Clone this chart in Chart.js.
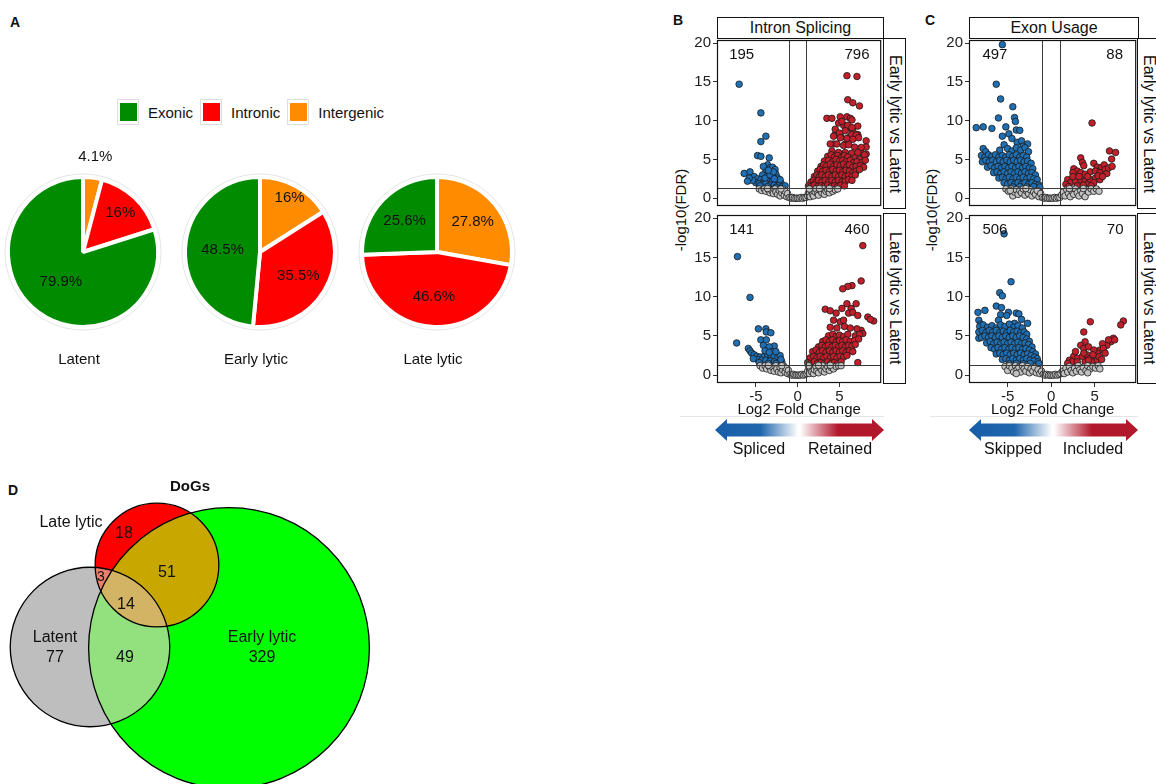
<!DOCTYPE html>
<html>
<head>
<meta charset="utf-8">
<script src="https://cdn.jsdelivr.net/npm/chart.js@4/dist/chart.umd.min.js"></script>
<style>
    body { margin: 0; width: 1156px; height: 784px; overflow: hidden; position: relative; background: #fff;
           font-family: "Liberation Sans", Arial, sans-serif; color: #111; }
    canvas { position: absolute; }
    .tag { position: absolute; font-weight: bold; font-size: 14px; line-height: 14px; }
    .strip { position: absolute; box-sizing: border-box; border: 1.5px solid #111; background: #fff;
             display: flex; align-items: center; justify-content: center; font-size: 16px; white-space: nowrap; }
    .vert { writing-mode: vertical-rl; }
    .ytitle { position: absolute; font-size: 15px; white-space: nowrap; transform: translate(-50%, -50%) rotate(-90deg); }
    .lbl { position: absolute; font-size: 16px; white-space: nowrap; transform: translate(-50%, -50%); }
    .arrow { position: absolute; height: 22px; }
    .faint { position: absolute; height: 0; border-top: 1px solid #e6e6e6; }
    #pieLegend { position: absolute; left: 117px; top: 99px; display: flex; align-items: center; font-size: 15px; }
    .key { width: 22px; height: 26px; box-sizing: border-box; border: 1px solid #dedede; background: #fff;
           display: flex; align-items: center; justify-content: center; }
    .key i { display: block; width: 17px; height: 18px; }
    .ltxt { margin: 0 7px 0 9px; }
</style>
</head>
<body>
    <div class="tag" style="left:10px;top:15px;">A</div>
    <div class="tag" style="left:673px;top:13px;">B</div>
    <div class="tag" style="left:925px;top:13px;">C</div>
    <div class="tag" style="left:8px;top:483px;">D</div>

    <!-- panel A -->
    <div id="pieLegend"></div>
    <canvas id="pie0" width="170" height="250" style="left:-2px;top:127px;"></canvas>
    <canvas id="pie1" width="170" height="250" style="left:175px;top:127px;"></canvas>
    <canvas id="pie2" width="170" height="250" style="left:352px;top:127px;"></canvas>

    <!-- panel B -->
    <div class="faint" style="left:680px;top:416px;width:204px;"></div>
    <div class="strip" style="left:717px;top:17px;width:167px;height:22px;">Intron Splicing</div>
    <div class="strip vert" style="left:883px;top:38px;width:23px;height:171px;">Early lytic vs Latent</div>
    <div class="strip vert" style="left:883px;top:213px;width:23px;height:171px;">Late lytic vs Latent</div>
    <div class="ytitle" style="left:680px;top:210px;">-log10(FDR)</div>
    <canvas id="bTop" width="196" height="188" style="left:690px;top:29px;"></canvas>
    <canvas id="bBot" width="196" height="217" style="left:690px;top:204px;"></canvas>
    <div class="arrow" style="left:715px;top:419px;width:83px;clip-path:polygon(0 50%,12px 0,12px 20%,100% 20%,100% 80%,12px 80%,12px 100%);background:linear-gradient(to right,#175ea9 0%,#1f66ad 55%,#ffffff 100%);"></div>
    <div class="arrow" style="left:800px;top:419px;width:84px;clip-path:polygon(0 20%,calc(100% - 12px) 20%,calc(100% - 12px) 0,100% 50%,calc(100% - 12px) 100%,calc(100% - 12px) 80%,0 80%);background:linear-gradient(to right,#ffffff 0%,#b2182b 45%,#b2182b 100%);"></div>
    <div class="lbl" style="left:759px;top:449px;">Spliced</div>
    <div class="lbl" style="left:840px;top:449px;">Retained</div>

    <!-- panel C -->
    <div class="faint" style="left:930px;top:416px;width:208px;"></div>
    <div class="strip" style="left:969px;top:17px;width:170px;height:22px;">Exon Usage</div>
    <div class="strip vert" style="left:1137px;top:38px;width:23px;height:171px;">Early lytic vs Latent</div>
    <div class="strip vert" style="left:1137px;top:213px;width:23px;height:171px;">Late lytic vs Latent</div>
    <div class="ytitle" style="left:931px;top:210px;">-log10(FDR)</div>
    <canvas id="cTop" width="199" height="188" style="left:942px;top:29px;"></canvas>
    <canvas id="cBot" width="199" height="217" style="left:942px;top:204px;"></canvas>
    <div class="arrow" style="left:969px;top:419px;width:83px;clip-path:polygon(0 50%,12px 0,12px 20%,100% 20%,100% 80%,12px 80%,12px 100%);background:linear-gradient(to right,#175ea9 0%,#1f66ad 55%,#ffffff 100%);"></div>
    <div class="arrow" style="left:1054px;top:419px;width:84px;clip-path:polygon(0 20%,calc(100% - 12px) 20%,calc(100% - 12px) 0,100% 50%,calc(100% - 12px) 100%,calc(100% - 12px) 80%,0 80%);background:linear-gradient(to right,#ffffff 0%,#b2182b 45%,#b2182b 100%);"></div>
    <div class="lbl" style="left:1013px;top:449px;">Skipped</div>
    <div class="lbl" style="left:1093px;top:449px;">Included</div>

    <!-- panel D -->
    <canvas id="venn" width="400" height="314" style="left:0px;top:470px;"></canvas>

<script>
const FONT = '"Liberation Sans", Arial, sans-serif';

// ---- panel A data ----
const pieNames = ['Latent', 'Early lytic', 'Late lytic'];
const regionLabels = ['Exonic', 'Intronic', 'Intergenic'];
const regionColors = ['#008b00', '#ff0000', '#ff8c00'];
const exonicPct = [79.9, 48.5, 25.6];
const intronicPct = [16, 35.5, 46.6];
const intergenicPct = [4.1, 16, 27.8];

// ---- panels B/C data: [log2FC, -log10(FDR)] ----
const xTicks = [-5, 0, 5];
const yTicks = [0, 5, 10, 15, 20];
const fcCut = [-1, 1];
const fdrCut = 1.3;

const intronEarlyCounts = [195, 796];
const intronLateCounts = [141, 460];
const exonEarlyCounts = [497, 88];
const exonLateCounts = [506, 70];

const intronEarlyBlue = [
    [-7.0,14.7],[-4.4,11.0],[-3.8,8.0],[-4.4,7.3],[-4.8,5.5],[-4.4,5.4],[-3.4,5.2],[-6.4,3.2],[-5.7,3.4],
    [-3.6,4.3],[-3.3,3.9],[-3.0,4.0],[-2.7,3.7],[-3.8,3.5],[-3.2,3.3],[-2.6,3.1],[-4.2,3.0],[-3.6,2.9],[-3.0,2.8],[-2.4,2.6],
    [-5.2,2.8],[-4.8,2.5],[-4.4,2.4],[-4.0,2.3],[-3.5,2.2],[-3.0,2.2],[-2.5,2.0],[-2.0,2.0],[-5.0,2.0],[-4.6,1.9],
    [-4.2,1.8],[-3.8,1.9],[-3.3,1.7],[-2.8,1.7],[-2.3,1.6],[-1.8,1.5],[-1.5,1.6],[-5.4,2.3],[-3.9,2.6],[-2.1,2.4],
    [-3.3,3.0],[-2.8,2.5],[-4.5,1.6],[-3.6,1.5],[-2.6,1.4],[-2.9,3.4],[-5.8,2.6],[-6.0,2.2],[-4.1,4.1],[-3.5,3.6]
];
const intronEarlyRed = [
    [5.9,15.8],[7.1,15.7],[6.0,12.7],[6.6,12.3],[7.4,11.9],[3.5,10.3],[4.1,10.3],[5.1,10.5],[5.9,10.5],[6.3,10.3],
    [6.5,10.1],[4.9,9.7],[5.5,9.4],[5.9,9.1],[7.2,9.3],[6.6,8.7],[7.2,8.2],[4.5,8.2],[5.2,7.9],[6.1,7.8],
    [8.2,7.4],[4.3,7.0],[5.7,7.0],[6.8,6.6],[8.2,6.6],[8.2,5.7],[7.6,5.9],[5.3,9.9],[6.0,9.4],[6.5,9.1],
    [4.5,8.9],[5.0,8.4],[5.7,8.7],[6.45,8.2],[7.0,8.15],[7.3,7.8],[4.3,8.0],[5.1,7.8],[5.9,7.7],[6.6,7.6],
    [3.9,7.0],[4.7,7.0],[5.5,6.8],[6.1,6.9],[7.6,6.55],[4.1,6.1],[4.9,5.9],[5.7,5.9],[6.45,5.8],[7.2,5.9],[8.0,5.6],
    [3.6,5.4],[4.0,5.6],[4.4,5.3],[4.8,5.5],[5.2,5.2],[5.6,5.5],[6.0,5.3],[6.8,5.2],[7.4,5.0],
    [3.2,4.8],[3.7,4.9],[4.2,4.7],[4.6,5.0],[5.0,4.8],[5.4,4.9],[5.8,4.7],[6.3,4.9],[6.7,4.6],[7.1,4.7],[7.7,4.6],[8.1,4.9],
    [2.8,4.1],[3.1,4.3],[3.5,4.2],[3.9,4.4],[4.3,4.1],[4.7,4.3],[5.1,4.2],[5.5,4.4],[5.9,4.1],[6.2,4.3],[6.6,4.0],[7.0,4.1],[7.5,4.2],[7.9,4.0],
    [2.4,3.5],[2.7,3.7],[3.0,3.5],[3.4,3.6],[3.8,3.4],[4.2,3.7],[4.6,3.5],[5.0,3.6],[5.4,3.4],[5.8,3.6],[6.2,3.5],[6.6,3.3],[7.0,3.5],[7.4,3.7],
    [2.0,2.8],[2.3,3.0],[2.6,2.8],[2.9,3.0],[3.3,2.8],[3.7,3.0],[4.1,2.8],[4.5,3.0],[4.9,2.8],[5.3,3.0],[5.7,2.8],[6.1,2.9],[6.5,2.8],[6.9,3.0],
    [1.6,2.1],[1.9,2.3],[2.2,2.1],[2.5,2.3],[2.9,2.1],[3.3,2.3],[3.7,2.1],[4.1,2.3],[4.5,2.1],[4.9,2.3],[5.3,2.1],[5.7,2.2],[6.1,2.4],[6.5,2.3],
    [1.3,1.6],[1.6,1.5],[2.0,1.7],[2.4,1.5],[2.8,1.6],[3.2,1.5],[3.6,1.7],[4.0,1.5],[4.4,1.6],[4.8,1.5],[5.2,1.7],[5.6,1.6]
];
const intronEarlyGray = [
    [-4.6,1.2],[-4.3,1.0],[-4.0,1.2],[-3.8,0.9],[-3.5,1.1],[-3.3,0.7],[-3.1,1.0],[-2.9,0.6],[-2.7,1.2],[-2.6,0.8],
    [-2.4,0.5],[-2.2,1.0],[-2.1,0.3],[-1.9,0.7],[-1.8,1.2],[-1.6,0.4],[-1.5,0.9],[-1.3,0.2],[-1.2,0.6],[-1.0,0.1],
    [-0.8,0.0],[-0.6,0.1],[-0.4,0.0],[-0.2,0.0],[0.0,0.0],[0.2,0.0],[0.4,0.1],[0.6,0.0],[0.8,0.1],[1.0,0.1],
    [1.2,0.3],[1.3,0.7],[1.5,0.2],[1.6,1.0],[1.8,0.5],[1.9,0.3],[2.1,0.8],[2.2,1.2],[2.4,0.6],[2.5,0.4],
    [2.7,1.0],[2.9,0.7],[3.1,1.2],[3.2,0.5],[3.4,0.9],[3.6,1.1],[3.8,0.7],[4.0,1.2],[4.2,0.9],[4.5,1.1],
    [4.8,1.2],[-3.6,1.25],[-2.0,1.2],[1.4,1.2],[2.6,1.25],[3.8,1.25]
];

const intronLateBlue = [
    [-7.2,15.1],[-5.7,9.9],[-7.3,4.1],[-4.7,5.9],[-3.8,5.9],[-3.75,5.5],[-3.2,5.4],[-4.4,4.5],[-3.75,4.5],[-2.8,3.7],
    [-4.1,3.8],[-3.4,3.6],[-3.1,3.0],[-5.9,3.4],[-5.7,3.1],[-5.5,2.8],[-5.2,2.6],[-4.9,2.4],[-4.5,2.3],[-4.0,2.4],
    [-3.6,2.6],[-3.2,2.5],[-2.8,2.4],[-2.4,2.2],[-2.1,2.5],[-4.8,2.0],[-4.3,1.9],[-3.8,1.9],[-3.3,1.8],[-2.8,1.7],
    [-2.3,1.6],[-1.9,1.7],[-5.3,2.1],[-4.6,1.6],[-3.5,1.5],[-2.6,1.5],[-2.0,2.0],[-3.9,3.1],[-3.4,2.9],[-2.6,3.0]
];
const intronLateRed = [
    [7.8,16.5],[7.6,12.0],[6.5,11.4],[6.0,11.3],[5.4,11.0],[3.3,8.4],[3.9,8.2],[4.6,7.9],[5.3,8.5],[5.9,9.1],
    [6.4,8.5],[7.0,9.1],[6.1,7.9],[6.6,8.0],[7.2,7.6],[8.4,7.4],[9.1,6.9],[8.7,7.1],[4.3,7.0],[5.1,6.8],
    [5.5,7.0],[3.9,6.1],[7.6,5.7],[7.8,5.3],[7.2,1.6],[4.7,6.0],[5.6,6.2],[6.3,6.0],[7.1,5.9],
    [3.7,5.0],[4.2,5.2],[4.6,4.9],[5.0,5.1],[5.5,4.9],[6.0,5.2],[6.9,5.0],[7.4,5.2],
    [3.0,4.3],[3.4,4.5],[3.8,4.3],[4.2,4.5],[4.6,4.2],[5.0,4.4],[5.4,4.3],[5.8,4.5],[6.3,4.3],[6.8,4.4],[7.3,4.6],
    [2.5,3.6],[2.9,3.8],[3.3,3.6],[3.7,3.8],[4.1,3.6],[4.5,3.8],[4.9,3.6],[5.3,3.8],[5.7,3.6],[6.1,3.8],[6.5,3.7],[6.9,3.9],
    [1.8,3.0],[2.2,3.2],[2.6,2.9],[3.0,3.1],[3.4,2.9],[3.8,3.1],[4.2,2.9],[4.6,3.1],[5.0,2.9],[5.4,3.1],[5.8,2.9],[6.2,3.1],[6.6,3.0],
    [1.5,2.2],[1.9,2.4],[2.3,2.2],[2.7,2.4],[3.1,2.2],[3.5,2.4],[3.9,2.2],[4.3,2.4],[4.7,2.2],[5.1,2.4],[5.5,2.3],[5.9,2.5],
    [1.2,1.6],[1.6,1.5],[2.0,1.7],[2.4,1.5],[2.8,1.6],[3.2,1.5],[3.6,1.7],[4.0,1.5],[4.4,1.6],[4.8,1.5],[5.2,1.7]
];
const intronLateGray = [
    [-4.5,1.2],[-4.2,0.9],[-3.9,1.2],[-3.7,0.8],[-3.4,1.1],[-3.2,0.6],[-3.0,1.0],[-2.8,0.5],[-2.6,1.2],[-2.5,0.8],
    [-2.3,0.4],[-2.1,1.0],[-2.0,0.3],[-1.8,0.7],[-1.7,1.2],[-1.5,0.4],[-1.4,0.9],[-1.2,0.2],[-1.1,0.6],[-0.9,0.1],
    [-0.7,0.0],[-0.5,0.1],[-0.3,0.0],[-0.1,0.0],[0.1,0.0],[0.3,0.0],[0.5,0.1],[0.7,0.0],[0.9,0.1],[1.1,0.2],
    [1.2,0.5],[1.4,0.2],[1.5,0.9],[1.7,0.4],[1.9,0.2],[2.0,0.7],[2.2,1.1],[2.3,0.5],[2.5,0.3],[2.7,0.9],
    [2.9,0.6],[3.0,1.2],[3.2,0.4],[3.4,0.8],[3.6,1.1],[3.8,0.6],[4.0,1.0],[4.3,0.8],[4.6,1.1],[4.9,1.2],
    [5.2,1.2],[-3.5,1.25],[-1.9,1.2],[1.3,1.2],[2.5,1.25],[3.9,1.25]
];

const exonEarlyBlue = [
    [-5.6,19.8],[-6.3,14.7],[-5.8,12.8],[-4.4,11.8],[-6.05,10.35],[-4.2,10.4],[-4.1,9.9],[-8.6,9.1],[-7.8,9.2],[-6.8,9.0],
    [-5.2,9.2],[-4.0,8.8],[-3.6,8.75],[-5.6,8.0],[-4.85,8.3],[-4.5,7.7],[-5.4,6.9],[-3.9,7.2],[-3.4,7.4],[-2.7,7.0],[-3.2,6.7],
    [-7.8,6.4],[-7.5,6.0],[-5.9,6.2],[-5.0,6.4],[-4.5,6.1],[-4.0,6.5],[-3.5,6.2],[-3.0,6.5],[-2.6,6.0],
    [-8.0,5.5],[-7.6,5.3],[-7.2,5.6],[-6.8,5.4],[-6.4,5.6],[-6.0,5.3],[-5.6,5.5],[-5.2,5.3],[-4.8,5.6],[-4.4,5.4],[-4.0,5.6],[-3.6,5.3],[-3.2,5.5],[-2.8,5.3],
    [-7.9,4.7],[-7.5,4.9],[-7.1,4.7],[-6.7,4.9],[-6.3,4.7],[-5.9,4.9],[-5.5,4.7],[-5.1,4.9],[-4.7,4.7],[-4.3,4.9],[-3.9,4.7],[-3.5,4.9],[-3.1,4.7],[-2.7,4.8],[-2.3,4.5],
    [-7.3,4.0],[-6.9,4.2],[-6.5,3.9],[-6.1,4.1],[-5.7,3.9],[-5.3,4.1],[-4.9,3.9],[-4.5,4.1],[-4.1,3.9],[-3.7,4.1],[-3.3,3.9],[-2.9,4.1],[-2.5,3.9],[-2.1,3.8],
    [-6.6,3.3],[-6.2,3.4],[-5.8,3.2],[-5.4,3.4],[-5.0,3.2],[-4.6,3.4],[-4.2,3.2],[-3.8,3.4],[-3.4,3.2],[-3.0,3.4],[-2.6,3.2],[-2.2,3.3],[-1.8,3.0],
    [-6.0,2.6],[-5.6,2.7],[-5.2,2.5],[-4.8,2.7],[-4.4,2.5],[-4.0,2.7],[-3.6,2.5],[-3.2,2.7],[-2.8,2.5],[-2.4,2.7],[-2.0,2.5],[-1.6,2.4],
    [-5.4,2.0],[-5.0,1.8],[-4.6,2.0],[-4.2,1.8],[-3.8,2.0],[-3.4,1.8],[-3.0,2.0],[-2.6,1.8],[-2.2,2.0],[-1.8,1.8],[-1.4,1.7],
    [-4.4,1.45],[-3.6,1.5],[-2.8,1.45],[-2.0,1.5],[-1.3,1.45]
];
const exonEarlyRed = [
    [4.7,9.7],[6.7,6.1],[7.4,5.9],[6.95,5.05],[3.4,5.2],[3.6,4.6],[3.75,4.2],[4.9,4.5],[5.3,4.0],[5.8,4.0],
    [6.1,4.3],[2.6,3.8],[3.0,3.5],[2.5,3.3],[3.4,3.3],[3.9,3.1],[4.5,3.4],[5.1,3.5],[5.6,3.3],[6.2,3.7],
    [6.4,3.2],[1.9,2.4],[2.2,2.0],[2.8,2.2],[3.4,2.4],[3.9,2.2],[4.5,2.4],[5.1,2.6],[5.6,2.4],[1.7,1.8],
    [4.1,1.8],[4.9,2.0],[2.5,2.8],[3.2,2.8],[4.2,2.8],[5.4,2.9],[5.9,2.8],[3.0,1.6],[3.7,1.7],[4.6,1.6],
    [2.0,1.5],[6.6,3.9],[7.0,4.1]
];
const exonEarlyGray = [
    [-5.2,1.2],[-4.9,0.9],[-4.6,1.2],[-4.4,0.3],[-4.2,0.8],[-4.0,1.1],[-3.8,0.5],[-3.6,1.0],[-3.4,0.7],[-3.2,1.2],
    [-3.0,0.4],[-2.8,0.9],[-2.6,0.6],[-2.4,1.1],[-2.2,0.3],[-2.0,0.8],[-1.8,0.5],[-1.6,1.0],[-1.4,0.2],[-1.2,0.6],
    [-1.0,0.1],[-0.8,0.0],[-0.6,0.1],[-0.4,0.0],[-0.2,0.0],[0.0,0.0],[0.2,0.0],[0.4,0.1],[0.6,0.0],[0.8,0.1],
    [1.0,0.1],[1.2,0.4],[1.4,0.8],[1.6,0.3],[1.8,1.1],[2.0,0.6],[2.2,0.2],[2.4,0.9],[2.6,0.5],[2.8,1.2],
    [3.0,0.7],[3.2,0.3],[3.4,1.0],[3.6,0.6],[3.9,0.2],[4.1,1.1],[4.3,0.8],[4.6,1.2],[4.9,0.9],[5.2,1.2],
    [5.5,0.9],[-4.7,1.0],[-2.9,1.25],[2.1,1.25],[3.7,1.25]
];

const exonLateBlue = [
    [-5.4,18.0],[-4.6,11.9],[-5.9,10.5],[-5.6,10.1],[-6.3,8.8],[-5.7,8.6],[-8.4,8.0],[-7.6,8.25],[-5.8,7.7],[-6.05,7.0],
    [-4.9,8.0],[-4.0,7.9],[-3.7,7.8],[-3.4,7.1],[-4.2,6.6],[-2.7,6.6],[-8.3,7.0],[-8.1,6.5],[-8.3,4.7],[-5.1,7.6],[-7.9,5.9],
    [-8.2,6.2],[-7.8,6.4],[-7.3,6.1],[-6.8,6.3],[-6.3,6.0],[-5.8,6.4],[-5.3,6.2],[-4.8,6.5],[-4.3,6.1],[-3.8,6.3],[-3.3,6.0],
    [-8.3,5.5],[-7.9,5.7],[-7.5,5.4],[-7.1,5.7],[-6.7,5.5],[-6.3,5.7],[-5.9,5.4],[-5.5,5.6],[-5.1,5.4],[-4.7,5.7],[-4.3,5.5],[-3.9,5.6],[-3.5,5.4],[-3.1,5.5],[-2.8,5.2],
    [-8.0,4.8],[-7.6,5.0],[-7.2,4.8],[-6.8,5.0],[-6.4,4.8],[-6.0,5.0],[-5.6,4.8],[-5.2,5.0],[-4.8,4.8],[-4.4,5.0],[-4.0,4.8],[-3.6,5.0],[-3.2,4.8],[-2.8,4.6],[-2.5,4.3],
    [-7.4,4.1],[-7.0,4.3],[-6.6,4.0],[-6.2,4.2],[-5.8,4.0],[-5.4,4.2],[-5.0,4.0],[-4.6,4.2],[-4.2,4.0],[-3.8,4.2],[-3.4,4.0],[-3.0,4.1],[-2.6,3.9],[-2.2,3.6],
    [-6.9,3.5],[-6.5,3.3],[-6.1,3.5],[-5.7,3.3],[-5.3,3.5],[-4.9,3.3],[-4.5,3.5],[-4.1,3.3],[-3.7,3.5],[-3.3,3.3],[-2.9,3.4],[-2.5,3.2],[-2.1,3.0],[-1.8,2.7],
    [-6.3,2.7],[-5.9,2.8],[-5.5,2.6],[-5.1,2.8],[-4.7,2.6],[-4.3,2.8],[-3.9,2.6],[-3.5,2.8],[-3.1,2.6],[-2.7,2.7],[-2.3,2.5],[-1.9,2.3],[-1.6,2.1],
    [-5.6,2.0],[-5.2,2.1],[-4.8,1.9],[-4.4,2.1],[-4.0,1.9],[-3.6,2.1],[-3.2,1.9],[-2.8,2.1],[-2.4,1.9],[-2.0,1.8],[-1.5,1.7],
    [-4.8,1.45],[-4.0,1.5],[-3.2,1.45],[-2.4,1.5],[-1.4,1.45]
];
const exonLateRed = [
    [8.3,6.9],[8.0,6.4],[4.5,6.8],[3.75,5.5],[7.15,4.7],[6.85,4.25],[6.4,3.8],[5.9,4.0],[5.6,3.2],[5.3,2.8],
    [3.9,4.25],[3.4,3.8],[3.75,3.4],[4.3,3.6],[4.9,3.2],[2.6,2.4],[3.0,2.15],[3.6,2.4],[4.1,2.6],[4.5,2.15],
    [2.1,1.9],[2.4,1.7],[3.0,1.7],[3.9,1.7],[4.7,1.7],[5.3,1.9],[1.9,1.5],[6.0,3.4],[6.6,4.5],[7.3,4.5],
    [4.3,1.9],[3.75,2.8],[5.5,2.35],[6.2,2.8],[2.8,3.0],[4.8,2.6],[5.8,2.0]
];
const exonLateGray = [
    [-5.3,1.1],[-5.0,0.6],[-4.8,1.2],[-4.5,0.9],[-4.3,0.4],[-4.1,1.2],[-3.9,0.7],[-3.7,1.0],[-3.5,0.4],[-3.3,1.2],
    [-3.1,0.8],[-2.9,0.5],[-2.7,1.1],[-2.5,0.3],[-2.3,0.8],[-2.1,0.5],[-1.9,1.0],[-1.7,0.3],[-1.5,0.7],[-1.3,0.2],
    [-1.1,0.5],[-0.9,0.1],[-0.7,0.0],[-0.5,0.1],[-0.3,0.0],[-0.1,0.0],[0.1,0.0],[0.3,0.0],[0.5,0.1],[0.7,0.0],
    [0.9,0.1],[1.1,0.2],[1.3,0.5],[1.5,0.2],[1.7,0.9],[1.9,0.4],[2.1,1.1],[2.3,0.6],[2.5,0.3],[2.7,0.9],
    [2.9,0.5],[3.1,1.2],[3.3,0.7],[3.5,0.4],[3.7,1.0],[4.0,0.6],[4.2,1.2],[4.5,0.8],[4.8,1.1],[5.1,0.9],
    [5.4,1.2],[5.6,0.8],[-4.0,0.2],[4.2,0.3]
];

// ---- panel D data ----
const vennSets = ['Latent', 'Early lytic', 'Late lytic'];
const vennOnly = [77, 329, 18];
const latentEarly = 49;
const latentLate = 3;
const earlyLate = 51;
const allThree = 14;

// ---------------- panel A ----------------
const legendBox = document.getElementById('pieLegend');
regionLabels.forEach((lab, i) => {
    legendBox.innerHTML += `<span class="key"><i style="background:${regionColors[i]}"></i></span><span class="ltxt">${lab}</span>`;
});

const pieLabelRadius = [[1.28, 0.72, 0.5], [0.82, 0.6, 0.5], [0.62, 0.6, 0.6]];

const pieDeco = {
    id: 'pieDeco',
    beforeDatasetsDraw(chart) {
        const a = chart.getDatasetMeta(0).data[0];
        const ctx = chart.ctx;
        ctx.save();
        ctx.beginPath();
        ctx.arc(a.x, a.y, a.outerRadius + 3, 0, Math.PI * 2);
        ctx.strokeStyle = '#e4e4e4';
        ctx.lineWidth = 1;
        ctx.stroke();
        ctx.restore();
    },
    afterDatasetsDraw(chart, args, opts) {
        const ctx = chart.ctx;
        const meta = chart.getDatasetMeta(0);
        const vals = chart.data.datasets[0].data;
        ctx.save();
        ctx.font = '15px ' + FONT;
        ctx.fillStyle = '#111';
        ctx.textAlign = 'center';
        ctx.textBaseline = 'middle';
        meta.data.forEach((arc, i) => {
            const mid = (arc.startAngle + arc.endAngle) / 2;
            const r = arc.outerRadius * opts.radii[i];
            ctx.fillText(vals[i] + '%', arc.x + Math.cos(mid) * r, arc.y + Math.sin(mid) * r);
        });
        const c = meta.data[0];
        ctx.fillText(opts.title, c.x - 4, c.y + 108);
        ctx.restore();
    }
};

pieNames.forEach((name, k) => {
    // clockwise from 12 o'clock: intergenic, intronic, exonic
    new Chart(document.getElementById('pie' + k), {
        type: 'pie',
        data: {
            labels: [regionLabels[2], regionLabels[1], regionLabels[0]],
            datasets: [{
                data: [intergenicPct[k], intronicPct[k], exonicPct[k]],
                backgroundColor: [regionColors[2], regionColors[1], regionColors[0]],
                borderColor: '#ffffff',
                borderWidth: 4
            }]
        },
        options: {
            responsive: false,
            animation: false,
            events: [],
            layout: { padding: { top: 48, bottom: 48, left: 8, right: 8 } },
            plugins: {
                legend: { display: false },
                tooltip: { enabled: false },
                pieDeco: { radii: pieLabelRadius[k], title: name }
            }
        },
        plugins: [pieDeco]
    });
});

// ---------------- panels B / C ----------------
const toPts = arr => arr.map(p => ({ x: p[0], y: p[1] }));

const volcanoDeco = {
    id: 'volcanoDeco',
    afterDatasetsDraw(chart, args, opts) {
        const { ctx, chartArea: a, scales: { x, y } } = chart;
        ctx.save();
        ctx.strokeStyle = '#3a3a3a';
        ctx.lineWidth = 1;
        fcCut.forEach(v => {
            const px = Math.round(x.getPixelForValue(v)) + 0.5;
            ctx.beginPath(); ctx.moveTo(px, a.top); ctx.lineTo(px, a.bottom); ctx.stroke();
        });
        const py = Math.round(y.getPixelForValue(fdrCut)) + 0.5;
        ctx.beginPath(); ctx.moveTo(a.left, py); ctx.lineTo(a.right, py); ctx.stroke();

        ctx.strokeStyle = '#111';
        ctx.lineWidth = 1.2;
        ctx.strokeRect(a.left + 0.5, a.top + 0.5, a.width - 1, a.height - 1);

        ctx.font = '15px ' + FONT;
        ctx.fillStyle = '#111';
        ctx.textAlign = 'center';
        ctx.textBaseline = 'middle';
        ctx.fillText(String(opts.counts[0]), x.getPixelForValue(opts.countX[0]), y.getPixelForValue(18.5));
        ctx.fillText(String(opts.counts[1]), x.getPixelForValue(opts.countX[1]), y.getPixelForValue(18.5));
        ctx.restore();
    }
};

function volcano(id, xMin, xMax, gray, blue, red, counts, countX, showX) {
    const tickFont = { size: 15, family: FONT };
    return new Chart(document.getElementById(id), {
        type: 'scatter',
        data: {
            datasets: [
                { data: toPts(gray), backgroundColor: '#c2c2c2' },
                { data: toPts(blue), backgroundColor: '#1f6fb4' },
                { data: toPts(red), backgroundColor: '#c21f2b' }
            ]
        },
        options: {
            responsive: false,
            animation: false,
            events: [],
            layout: { padding: { top: 0, right: 3, bottom: 0, left: 0 } },
            elements: { point: { radius: 3.3, borderWidth: 0.8, borderColor: '#1a1a1a' } },
            plugins: {
                legend: { display: false },
                tooltip: { enabled: false },
                volcanoDeco: { counts: counts, countX: countX }
            },
            scales: {
                x: {
                    type: 'linear', min: xMin, max: xMax, display: showX,
                    afterBuildTicks: s => { s.ticks = xTicks.map(v => ({ value: v })); },
                    afterFit: s => { if (showX) s.height = 38; },
                    grid: { drawOnChartArea: false, tickLength: 4, color: '#333' },
                    border: { display: false },
                    ticks: { font: tickFont, color: '#222', padding: 1 },
                    title: { display: true, text: 'Log2 Fold Change', font: tickFont, color: '#111', padding: { top: 0, bottom: 2 } }
                },
                y: {
                    type: 'linear', min: -1, max: 20.4,
                    afterBuildTicks: s => { s.ticks = yTicks.map(v => ({ value: v })); },
                    afterFit: s => { s.width = 27; },
                    grid: { drawOnChartArea: false, tickLength: 4, color: '#333' },
                    border: { display: false },
                    ticks: { font: tickFont, color: '#222', padding: 2 }
                }
            }
        },
        plugins: [volcanoDeco]
    });
}

volcano('bTop', -9.65, 10.0, intronEarlyGray, intronEarlyBlue, intronEarlyRed, intronEarlyCounts, [-6.7, 7.1], false);
volcano('bBot', -9.65, 10.0, intronLateGray, intronLateBlue, intronLateRed, intronLateCounts, [-6.7, 7.1], true);
volcano('cTop', -9.43, 9.77, exonEarlyGray, exonEarlyBlue, exonEarlyRed, exonEarlyCounts, [-6.45, 7.3], false);
volcano('cBot', -9.43, 9.77, exonLateGray, exonLateBlue, exonLateRed, exonLateCounts, [-6.45, 7.35], true);

// ---------------- panel D ----------------
const setTotals = [
    vennOnly[0] + latentEarly + latentLate + allThree,
    vennOnly[1] + latentEarly + earlyLate + allThree,
    vennOnly[2] + latentLate + earlyLate + allThree
];
const radiusPerSqrt = 6.67;                       // area-proportional circles, px per sqrt(count)
const vennCentres = [[90, 177], [229, 178], [157, 95]];
const vennFill = ['#bebebe', '#00ff00', '#ff0000'];

const vennDeco = {
    id: 'vennDeco',
    afterDatasetsDraw(chart) {
        const { ctx, scales: { x, y } } = chart;
        const c = chart.getDatasetMeta(0).data.map(p => ({ x: p.x, y: p.y, r: p.options.radius }));
        const circ = k => { ctx.beginPath(); ctx.arc(c[k].x, c[k].y, c[k].r, 0, Math.PI * 2); };
        const fillIn = (ids, col) => {
            ctx.save();
            ids.forEach(k => { circ(k); ctx.clip(); });
            ctx.fillStyle = col;
            ctx.fillRect(0, 0, chart.width, chart.height);
            ctx.restore();
        };
        fillIn([0, 1], '#92e07e');
        fillIn([0, 2], '#e8806e');
        fillIn([1, 2], '#c8a800');
        fillIn([0, 1, 2], '#d2b464');
        ctx.save();
        ctx.strokeStyle = '#000';
        ctx.lineWidth = 1.3;
        [0, 1, 2].forEach(k => { circ(k); ctx.stroke(); });

        ctx.fillStyle = '#111';
        ctx.textAlign = 'center';
        ctx.textBaseline = 'middle';
        const put = (t, px, py, f) => { ctx.font = f; ctx.fillText(String(t), x.getPixelForValue(px), y.getPixelForValue(py)); };
        const f16 = '16px ' + FONT;
        put('DoGs', 190, 17, 'bold 15px ' + FONT);
        put(vennSets[0], 55, 168, f16); put(vennOnly[0], 55, 188, f16);
        put(vennSets[1], 262, 168, f16); put(vennOnly[1], 262, 188, f16);
        put(vennSets[2], 71, 53, f16); put(vennOnly[2], 124, 64, f16);
        put(latentEarly, 125, 188, f16);
        put(latentLate, 101, 107, '14px ' + FONT);
        put(earlyLate, 167, 103, f16);
        put(allThree, 126, 135, f16);
        ctx.restore();
    }
};

new Chart(document.getElementById('venn'), {
    type: 'bubble',
    data: {
        labels: vennSets,
        datasets: [{
            data: vennCentres.map((p, i) => ({ x: p[0], y: p[1], r: radiusPerSqrt * Math.sqrt(setTotals[i]) })),
            backgroundColor: vennFill,
            borderWidth: 0,
            clip: false
        }]
    },
    options: {
        responsive: false,
        animation: false,
        events: [],
        layout: { padding: 0, autoPadding: false },
        plugins: { legend: { display: false }, tooltip: { enabled: false } },
        scales: {
            x: { type: 'linear', min: 0, max: 400, display: false },
            y: { type: 'linear', min: 0, max: 314, reverse: true, display: false }
        }
    },
    plugins: [vennDeco]
});
</script>
</body>
</html>
